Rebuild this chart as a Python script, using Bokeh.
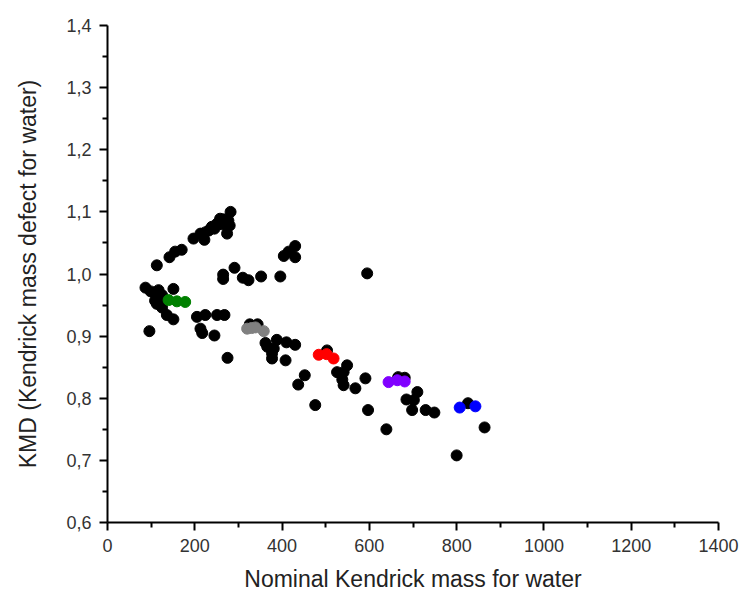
from bokeh.plotting import figure
from bokeh.models import FixedTicker, CustomJSTickFormatter, Range1d
from bokeh.embed import file_html
from bokeh.resources import INLINE

# Black points (nominal Kendrick mass, KMD)
black_x = [113, 142, 155, 170, 197, 213, 222, 224, 232, 239, 245, 251, 258, 262, 266, 270, 274, 277, 280, 282,
           265, 265, 291, 310, 323, 352, 396, 404, 415, 430, 430, 595,
           87, 99, 108, 117, 125, 151, 109, 113, 121, 125, 136, 151, 96,
           205, 224, 251, 268, 213, 217, 245, 275,
           326, 344, 362, 366, 381, 388, 377, 377, 410, 430, 408, 437, 452, 476,
           503, 526, 541, 549, 538, 541, 568, 591, 597,
           666, 681, 710, 685, 702, 698, 729, 749, 639,
           826, 864, 800]
black_y = [1.014, 1.027, 1.036, 1.039, 1.057, 1.065, 1.055, 1.067, 1.070, 1.076, 1.073, 1.081, 1.089, 1.080, 1.088, 1.085, 1.065, 1.086, 1.078, 1.100,
           0.999, 0.992, 1.010, 0.994, 0.990, 0.996, 0.996, 1.029, 1.036, 1.045, 1.027, 1.001,
           0.978, 0.972, 0.970, 0.974, 0.966, 0.976, 0.957, 0.952, 0.950, 0.946, 0.934, 0.927, 0.908,
           0.931, 0.934, 0.934, 0.934, 0.912, 0.905, 0.901, 0.865,
           0.919, 0.919, 0.889, 0.883, 0.880, 0.894, 0.872, 0.864, 0.890, 0.886, 0.861, 0.822, 0.837, 0.789,
           0.877, 0.842, 0.842, 0.853, 0.830, 0.821, 0.816, 0.832, 0.781,
           0.834, 0.833, 0.810, 0.798, 0.797, 0.781, 0.781, 0.777, 0.750,
           0.792, 0.753, 0.708]

green_x = [140, 159, 178]
green_y = [0.958, 0.956, 0.955]
gray_x = [320, 330, 339, 358]
gray_y = [0.912, 0.913, 0.914, 0.908]
red_x = [484, 502, 518]
red_y = [0.870, 0.871, 0.864]
purple_x = [644, 664, 681]
purple_y = [0.826, 0.829, 0.827]
blue_x = [807, 843]
blue_y = [0.785, 0.787]

x_ticks = [0, 200, 400, 600, 800, 1000, 1200, 1400]
x_minor = [100, 300, 500, 700, 900, 1100, 1300]
y_ticks = [0.6, 0.7, 0.8, 0.9, 1.0, 1.1, 1.2, 1.3, 1.4]
y_minor = [0.65, 0.75, 0.85, 0.95, 1.05, 1.15, 1.25, 1.35]

FONT = "Liberation Sans"

p = figure(width=741, height=594, output_backend="svg", toolbar_location=None,
           x_range=Range1d(0, 1400), y_range=Range1d(0.6, 1.4),
           min_border_left=107, min_border_right=23, min_border_top=25, min_border_bottom=72)
p.outline_line_color = None
p.xgrid.visible = False
p.ygrid.visible = False
p.background_fill_color = "white"
p.border_fill_color = "white"

p.xaxis.ticker = FixedTicker(ticks=x_ticks, minor_ticks=x_minor)
p.yaxis.ticker = FixedTicker(ticks=y_ticks, minor_ticks=y_minor)
p.yaxis.formatter = CustomJSTickFormatter(code="return tick.toFixed(1).replace('.', ',');")

for ax in (p.xaxis[0], p.yaxis[0]):
    ax.axis_line_width = 2
    ax.axis_line_color = "black"
    ax.major_tick_line_width = 2
    ax.minor_tick_line_width = 2
    ax.major_tick_line_color = "black"
    ax.minor_tick_line_color = "black"
    ax.major_tick_in = 0
    ax.major_tick_out = 8
    ax.minor_tick_in = 0
    ax.minor_tick_out = 5
    ax.major_label_text_font = FONT
    ax.major_label_text_font_size = "18px"
    ax.major_label_text_color = "#333333"
    ax.axis_label_text_font = FONT
    ax.axis_label_text_font_size = "23px"
    ax.axis_label_text_font_style = "normal"
    ax.axis_label_text_color = "#222222"

p.xaxis.axis_label = "Nominal Kendrick mass for water"
p.yaxis.axis_label = "KMD (Kendrick mass defect for water)"
p.xaxis.major_label_standoff = 8
p.yaxis.major_label_standoff = 8
p.xaxis.axis_label_standoff = 11
p.yaxis.axis_label_standoff = 22

S = 11
p.scatter(black_x, black_y, size=S, color="black")
p.scatter(green_x, green_y, size=S, color="#008000")
p.scatter(gray_x, gray_y, size=S, color="#808080")
p.scatter(red_x, red_y, size=S, color="#ff0000")
p.scatter(purple_x, purple_y, size=S, color="#8000ff")
p.scatter(blue_x, blue_y, size=S, color="#0000ff")

open("out.html", "w").write(file_html(p, INLINE))
